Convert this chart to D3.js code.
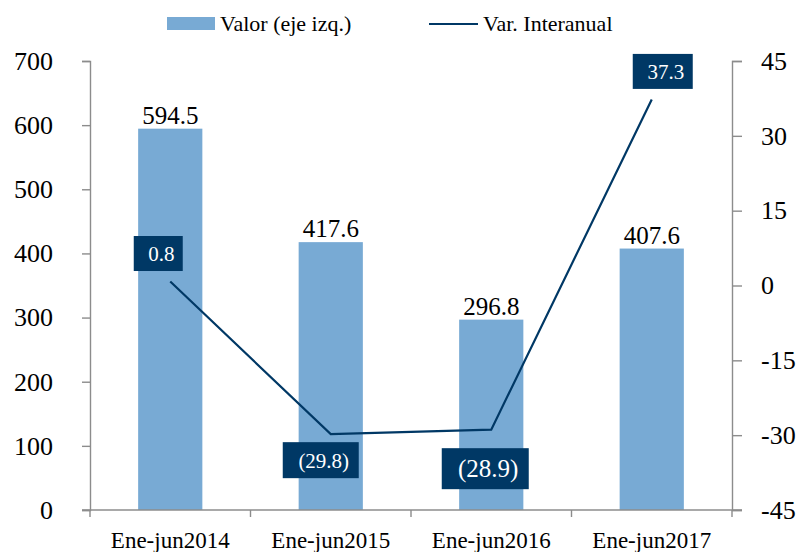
<!DOCTYPE html>
<html>
<head>
<meta charset="utf-8">
<script src="https://cdn.jsdelivr.net/npm/d3@7"></script>
<style>
  body { margin: 0; background: #fff; }
  svg text { font-family: "Liberation Serif", "Times New Roman", Tinos, "DejaVu Serif", serif !important; }
</style>
</head>
<body>
<div class="chart"></div>
<script>
const categories = ["Ene-jun2014", "Ene-jun2015", "Ene-jun2016", "Ene-jun2017"];
const valores = [594.5, 417.6, 296.8, 407.6];
const variacion = [0.8, -29.8, -28.9, 37.3];
const varLabels = ["0.8", "(29.8)", "(28.9)", "37.3"];
const leftTicks = [0, 100, 200, 300, 400, 500, 600, 700];
const rightTicks = [-45, -30, -15, 0, 15, 30, 45];

function drawChart() {
  let width = 807,
    height = 552;

  let barColor = "#78aad4",
    navy = "#003865",
    axisColor = "#8c8c8c";

  // label box placement relative to each line point
  const labelLayout = [
    { dx: -12, dy: -28, w: 49, h: 35, fs: 21 },
    { dx: -10, dy: 26, w: 76, h: 36, fs: 21 },
    { dx: -6, dy: 39, w: 87, h: 41, fs: 25 },
    { dx: 11, dy: -28, w: 60, h: 35, fs: 21 },
  ];

  let intFormat = (d) => String(d);

  let svg = d3
    .select(".chart")
    .append("svg")
    .attr("width", width)
    .attr("height", height)
    .style("display", "block");

  let x = d3.scaleBand().domain(categories).range([90, 732]).padding(0);
  let yLeft = d3.scaleLinear().domain([0, 700]).range([510, 61]);
  let yRight = d3.scaleLinear().domain([-45, 45]).range([510, 61]);

  let barW = x.bandwidth() * 0.4;

  // bars
  svg
    .selectAll(".bar")
    .data(valores)
    .enter()
    .append("rect")
    .attr("class", "bar")
    .attr("x", (d, i) => x(categories[i]) + x.bandwidth() / 2 - barW / 2)
    .attr("y", (d) => yLeft(d))
    .attr("width", barW)
    .attr("height", (d) => yLeft(0) - yLeft(d))
    .attr("fill", barColor);

  svg
    .selectAll(".bar-label")
    .data(valores)
    .enter()
    .append("text")
    .attr("class", "bar-label")
    .attr("x", (d, i) => x(categories[i]) + x.bandwidth() / 2)
    .attr("y", (d) => yLeft(d) - 5)
    .attr("text-anchor", "middle")
    .style("font-size", "25px")
    .attr("fill", "#000")
    .text((d) => d3.format(".1f")(d));

  // axes
  let leftAxis = d3.axisLeft(yLeft).tickValues(leftTicks).tickSize(8).tickPadding(29).tickFormat(intFormat);
  let gl = svg.append("g").attr("transform", "translate(90,0)").call(leftAxis);
  let rightAxis = d3.axisRight(yRight).tickValues(rightTicks).tickSize(10).tickPadding(19).tickFormat(intFormat);
  let gr = svg.append("g").attr("transform", "translate(732,0)").call(rightAxis);
  [gl, gr].forEach((g) => {
    g.attr("font-family", null);
    g.select(".domain").attr("stroke", axisColor).attr("stroke-width", 1.4);
    g.selectAll(".tick line").attr("stroke", axisColor).attr("stroke-width", 1.4);
    g.selectAll(".tick text").attr("fill", "#000").style("font-size", "26px");
  });
  gr.selectAll(".tick text").attr("text-anchor", "start");

  // category axis
  let gx = svg.append("g").attr("transform", "translate(0,510)");
  gx.append("line")
    .attr("x1", 82)
    .attr("x2", 742)
    .attr("stroke", axisColor)
    .attr("stroke-width", 1.4);
  let edges = categories.map((c) => x(c)).concat([x.range()[1]]);
  gx.selectAll(".cat-tick")
    .data(edges)
    .enter()
    .append("line")
    .attr("x1", (d) => d)
    .attr("x2", (d) => d)
    .attr("y1", 0)
    .attr("y2", 7)
    .attr("stroke", axisColor)
    .attr("stroke-width", 1.4);
  gx.selectAll(".cat-label")
    .data(categories)
    .enter()
    .append("text")
    .attr("x", (d) => x(d) + x.bandwidth() / 2)
    .attr("y", 38)
    .attr("text-anchor", "middle")
    .style("font-size", "23px")
    .text((d) => d);

  // line
  let line = d3
    .line()
    .x((d, i) => x(categories[i]) + x.bandwidth() / 2)
    .y((d) => yRight(d));

  svg
    .append("path")
    .datum(variacion)
    .attr("d", line)
    .attr("fill", "none")
    .attr("stroke", navy)
    .attr("stroke-width", 2.2);

  // line labels
  let lab = svg
    .selectAll(".var-label")
    .data(variacion)
    .enter()
    .append("g")
    .attr("class", "var-label")
    .attr("transform", (d, i) => {
      let cx = x(categories[i]) + x.bandwidth() / 2 + labelLayout[i].dx;
      let cy = yRight(d) + labelLayout[i].dy;
      return "translate(" + cx + "," + cy + ")";
    });
  lab.append("rect")
    .attr("x", (d, i) => -labelLayout[i].w / 2)
    .attr("y", (d, i) => -labelLayout[i].h / 2)
    .attr("width", (d, i) => labelLayout[i].w)
    .attr("height", (d, i) => labelLayout[i].h)
    .attr("fill", navy);
  lab.append("text")
    .attr("x", 3)
    .attr("y", 0)
    .attr("dy", "0.35em")
    .attr("text-anchor", "middle")
    .attr("fill", "#fff")
    .style("font-size", (d, i) => labelLayout[i].fs + "px")
    .text((d, i) => varLabels[i]);

  // legend
  let legend = svg.append("g").attr("id", "legend");
  legend.append("rect")
    .attr("x", 167)
    .attr("y", 17)
    .attr("width", 48)
    .attr("height", 13)
    .attr("fill", barColor);
  legend.append("text")
    .attr("x", 220)
    .attr("y", 31)
    .style("font-size", "22px")
    .text("Valor (eje izq.)");
  legend.append("line")
    .attr("x1", 429)
    .attr("x2", 478)
    .attr("y1", 24)
    .attr("y2", 24)
    .attr("stroke", navy)
    .attr("stroke-width", 2.2);
  legend.append("text")
    .attr("x", 483)
    .attr("y", 31)
    .style("font-size", "22px")
    .text("Var. Interanual");
}

drawChart();
</script>
</body>
</html>
